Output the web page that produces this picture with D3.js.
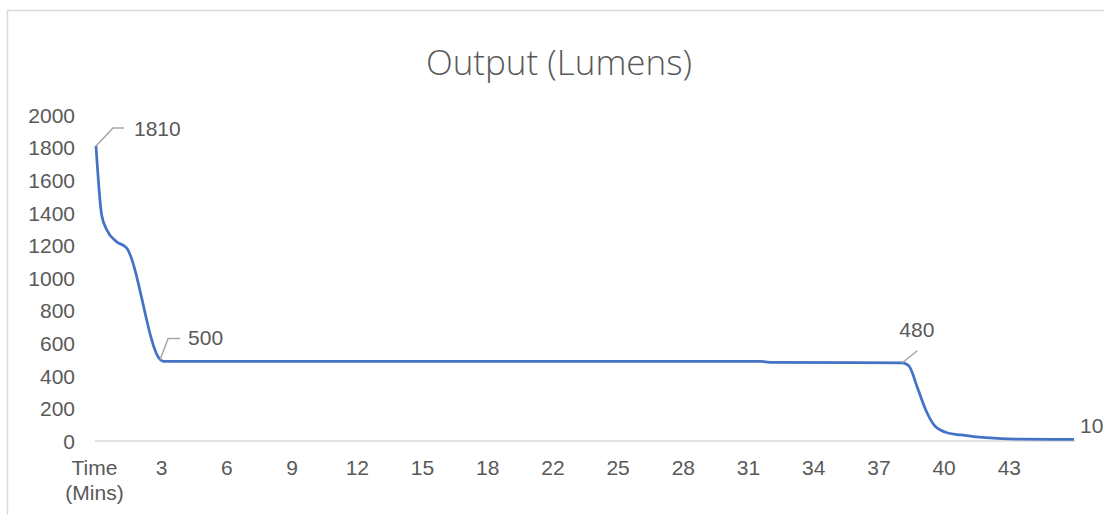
<!DOCTYPE html>
<html>
<head>
<meta charset="utf-8">
<script src="https://cdn.jsdelivr.net/npm/d3@7"></script>
<style>
  body { margin: 0; background: #fff; }
  text { font-family: "Liberation Sans", Arial, sans-serif; fill: #595959; }
</style>
</head>
<body>
<div id="viz"></div>
<script>
// position along the category axis (one tick label every 3 units)
var timePos = [0, 0.26, 0.5, 0.95, 1.41, 2.95, 3.1, 30.6, 31.0, 37.1, 37.4, 37.8, 38.2, 38.6, 39.2, 39.8, 40.5, 41.3, 42.4, 45];
var lumens = [1810, 1387, 1294, 1223, 1184, 500, 488, 488, 483, 480, 462, 325, 184, 92, 49, 37, 25, 18, 12, 10];

var tickPos = [0, 3, 6, 9, 12, 15, 18, 21, 24, 27, 30, 33, 36, 39, 42];
var tickLabels = ["Time\n(Mins)", "3", "6", "9", "12", "15", "18", "22", "25", "28", "31", "34", "37", "40", "43"];
var yTicks = [0, 200, 400, 600, 800, 1000, 1200, 1400, 1600, 1800, 2000];

// data labels shown on the line (index into the series)
var labelIdx = [0, 5, 9, 19];
var labelText = ["1810", "500", "480", "10"];

var W = 1104, H = 515;

var svg = d3.select("#viz").append("svg")
  .attr("width", W)
  .attr("height", H);

// chart border
svg.append("rect")
  .attr("x", 7.5).attr("y", 10.5)
  .attr("width", W + 20).attr("height", H + 20)
  .attr("fill", "#fff")
  .attr("stroke", "#d9d9d9")
  .attr("stroke-width", 1.5);

var xScale = d3.scaleLinear().domain([0, 45]).range([96, 1074]);
var yScale = d3.scaleLinear().domain([0, 2000]).range([441, 115]);

// title
svg.append("text")
  .attr("x", 559).attr("y", 75)
  .attr("text-anchor", "middle")
  .style("font-family", "Open Sans, sans-serif")
  .style("font-weight", 300)
  .style("font-size", "35px")
  .text("Output (Lumens)");

// y axis labels (no axis line)
var yAxis = d3.axisLeft(yScale).tickValues(yTicks).tickSize(0).tickPadding(0).tickFormat(d3.format("d"));
var gy = svg.append("g")
  .attr("transform", "translate(75,0)")
  .call(yAxis);
gy.select(".domain").remove();
gy.selectAll("text")
  .style("font-size", "21px")
  .style("font-family", "Liberation Sans, Arial, sans-serif")
  .attr("fill", "#595959")
  .attr("dy", "0.35em");

// x axis
var xAxis = d3.axisBottom(xScale).tickValues(tickPos).tickSize(0).tickFormat("");
var gx = svg.append("g")
  .attr("transform", "translate(0," + yScale(0) + ")")
  .call(xAxis);
gx.select(".domain")
  .attr("stroke", "#d9d9d9")
  .attr("stroke-width", 1.5)
  .attr("d", "M95,0H1075");

gx.selectAll(".tick").each(function (d, i) {
  var lines = tickLabels[i].split("\n");
  var t = d3.select(this).append("text")
    .attr("text-anchor", "middle")
    .attr("fill", "#595959")
    .style("font-size", "21px")
    .style("font-family", "Liberation Sans, Arial, sans-serif");
  lines.forEach(function (s, j) {
    t.append("tspan")
      .attr("x", i == 0 ? -2 : 0)
      .attr("y", 34 + j * 25)
      .text(s);
  });
});

// the line
var line = d3.line()
  .x(function (d) { return xScale(d[0]); })
  .y(function (d) { return yScale(d[1]); })
  .curve(d3.curveMonotoneX);

svg.append("path")
  .datum(d3.zip(timePos, lumens))
  .attr("fill", "none")
  .attr("stroke", "#4472c4")
  .attr("stroke-width", 2.75)
  .attr("stroke-linejoin", "round")
  .attr("d", line);

// data labels with leader lines
var leaders = [
  { dx1: 17, dy1: -18, dx2: 28, tx: 38, ty: -17 },
  { dx1: 8, dy1: -21, dx2: 20, tx: 28, ty: -22 },
  { dx1: 15, dy1: -12, dx2: 15, tx: -3, ty: -33 },
  { dx1: 0, dy1: 0, dx2: 0, tx: 6, ty: -14 }
];
labelIdx.forEach(function (k, i) {
  var px = xScale(timePos[k]), py = yScale(lumens[k]);
  var o = leaders[i];
  if (o.dx1 != 0) {
    svg.append("polyline")
      .attr("points", [[px, py], [px + o.dx1, py + o.dy1], [px + o.dx2, py + o.dy1]].join(" "))
      .attr("fill", "none")
      .attr("stroke", "#a6a6a6")
      .attr("stroke-width", 1.5);
  }
  svg.append("text")
    .attr("x", px + o.tx)
    .attr("y", py + o.ty)
    .attr("dy", "0.35em")
    .style("font-size", "21px")
    .text(labelText[i]);
});
</script>
</body>
</html>
